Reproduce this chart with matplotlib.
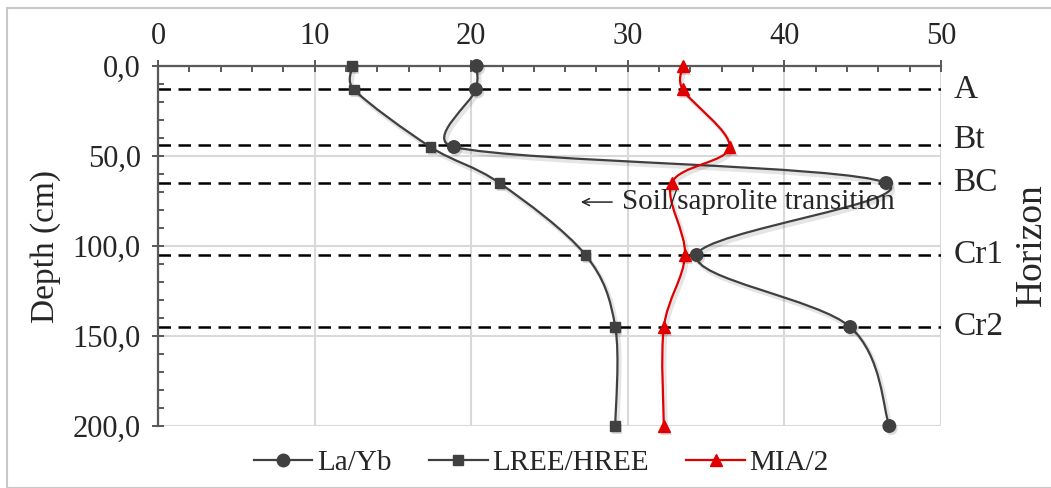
import numpy as np
import matplotlib
matplotlib.use('Agg')
import matplotlib.pyplot as plt
import matplotlib.patheffects as pe
from matplotlib.path import Path
from matplotlib.patches import PathPatch, Rectangle
from matplotlib.ticker import MultipleLocator, FuncFormatter

plt.rcParams['font.family'] = ['Liberation Serif', 'DejaVu Serif']

depth      = [0, 13, 45, 65, 105, 145, 200]
la_yb      = [20.35, 20.3, 18.9, 46.5, 34.4, 44.2, 46.7]
lree_hree  = [12.4, 12.5, 17.4, 21.8, 27.3, 29.2, 29.2]
mia_half   = [33.5, 33.5, 36.5, 32.8, 33.65, 32.3, 32.3]

horizon_depth  = [13, 44, 65, 105, 145]
horizon_names  = ['A', 'Bt', 'BC', 'Cr1', 'Cr2']
horizon_labely = [13, 41, 65, 105, 145]

GREY = '#404040'
RED  = '#e00000'
TXT  = '#262626'
FS   = 21


def smooth_path(ax, xs, ys):
    # excel-like smoothed line: cubic bezier through the points (catmull-rom style)
    pts = ax.transData.transform(np.column_stack([xs, ys]))
    n = len(pts)
    verts = [pts[0]]
    codes = [Path.MOVETO]
    for i in range(n - 1):
        p0 = pts[i - 1] if i > 0 else pts[i]
        p1, p2 = pts[i], pts[i + 1]
        p3 = pts[i + 2] if i + 2 < n else pts[i + 1]
        d12 = np.hypot(*(p2 - p1))
        d02 = np.hypot(*(p2 - p0))
        d13 = np.hypot(*(p3 - p1))
        f1 = 1 / 6 if d02 / 6 < d12 / 2 else d12 / (2 * d02) if d02 > 0 else 0
        f2 = 1 / 6 if d13 / 6 < d12 / 2 else d12 / (2 * d13) if d13 > 0 else 0
        c1 = p1 + f1 * (p2 - p0)
        c2 = p2 - f2 * (p3 - p1)
        verts += [c1, c2, p2]
        codes += [Path.CURVE4] * 3
    verts = ax.transData.inverted().transform(np.array(verts))
    return Path(verts, codes)


fig = plt.figure(figsize=(10.51, 4.88), dpi=100)
ax = fig.add_axes([158 / 1051, 1 - 426 / 488, 783 / 1051, 360 / 488])
ax.set_xlim(0, 50)
ax.set_ylim(200, 0)

shadow = [pe.SimpleLineShadow(offset=(1.5, -2), shadow_color='#000000', alpha=0.10, linewidth=3), pe.Normal()]

for vals, col, mk, ms, lab in [(la_yb, GREY, 'o', 9, 'La/Yb'),
                              (lree_hree, GREY, 's', 7, 'LREE/HREE'),
                              (mia_half, RED, '^', 8.5, 'MIA/2')]:
    patch = PathPatch(smooth_path(ax, vals, depth), facecolor='none', edgecolor=col,
                      lw=1.6, zorder=6, path_effects=shadow, clip_on=False)
    ax.add_patch(patch)
    ax.plot(vals, depth, linestyle='none', marker=mk, ms=ms, color=col, zorder=7, clip_on=False,
            path_effects=[pe.SimplePatchShadow(offset=(1.5, -2), alpha=0.15), pe.Normal()])
    ax.plot([], [], color=col, lw=1.6, marker=mk, ms=ms, label=lab)

for d in horizon_depth:
    ax.axhline(d, color='black', lw=1.8, linestyle=(0, (5, 3)), zorder=2)

ax.xaxis.set_major_locator(MultipleLocator(10))
ax.xaxis.set_minor_locator(MultipleLocator(2))
ax.yaxis.set_major_locator(MultipleLocator(50))
ax.yaxis.set_minor_locator(MultipleLocator(10))
ax.yaxis.set_major_formatter(FuncFormatter(lambda v, p: f'{v:.1f}'.replace('.', ',')))
ax.xaxis.tick_top()
ax.tick_params(which='major', direction='inout', length=9, width=1.4, color='#595959',
               labelsize=FS + 1, labelcolor=TXT)
ax.tick_params(axis='x', which='major', pad=6)
ax.tick_params(axis='y', which='major', pad=8)
ax.tick_params(which='minor', direction='in', length=4.5, width=1.4, color='#595959')
ax.tick_params(axis='x', which='minor', top=True, bottom=False)

ax.grid(True, which='major', color='#d9d9d9', lw=1.5, zorder=0)
ax.set_axisbelow(True)
for s in ['right', 'bottom']:
    ax.spines[s].set_visible(False)
for s in ['left', 'top']:
    ax.spines[s].set_color('#595959')
    ax.spines[s].set_linewidth(1.6)
    ax.spines[s].set_zorder(5)

for name, d in zip(horizon_names, horizon_labely):
    ax.text(1.016, d, name, transform=ax.get_yaxis_transform(), fontsize=FS + 3,
            color=TXT, va='center', ha='left')

ax.annotate('', xy=(27.0, 75.6), xytext=(29.0, 75.6),
            arrowprops=dict(arrowstyle='->,head_length=0.5,head_width=0.25', lw=1.1, color=TXT,
                            shrinkA=0, shrinkB=0), zorder=8)
ax.text(29.6, 75.6, 'Soil/saprolite transition', fontsize=FS, color=TXT,
        va='center', ha='left', zorder=8)

fig.text(0.043, 0.494, 'Depth (cm)', rotation=90, fontsize=FS + 3, color=TXT, va='center', ha='center')
fig.text(0.982, 0.498, 'Horizon', rotation=90, fontsize=FS + 6, color=TXT, va='center', ha='center')

fig.legend(loc='center', bbox_to_anchor=(0.515, 0.051), ncol=3, frameon=False, fontsize=FS,
           handlelength=2.0, handletextpad=0.15, columnspacing=1.3, labelcolor=TXT)

fig.patches.append(Rectangle((7 / 1051, 0.5 / 488), 1.1, (480 - 0.5) / 488, transform=fig.transFigure,
                             fill=False, edgecolor='#c8c8c8', lw=1.5))

fig.savefig('out.png', dpi=100)
